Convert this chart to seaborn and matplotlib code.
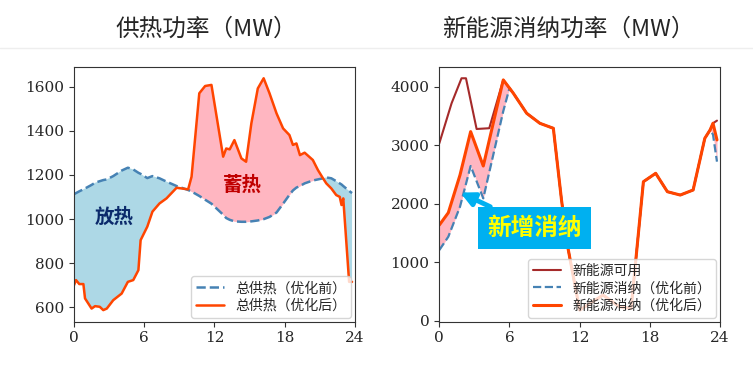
import numpy as np
import pandas as pd
import matplotlib
matplotlib.use('Agg')
import matplotlib.pyplot as plt
from matplotlib.lines import Line2D
import seaborn as sns

# ---- data: heat supply (MW) ----
t_heat = [0, 0.17, 0.45, 0.8, 0.94, 1.5, 1.8, 2.2, 2.5, 2.8, 3.35, 4.07, 4.6, 5.06,
          5.5, 5.69, 6.26, 6.7, 7.3, 7.9, 8.76, 9.75, 10.04, 10.7, 11.2, 11.74, 12.74,
          13.0, 13.3, 13.7, 14.3, 14.7, 15.15, 15.7, 16.2, 16.7, 17.3, 17.86, 18.4,
          18.7, 19.0, 19.3, 19.7, 20.4, 20.84, 21.27, 21.55, 21.98, 22.4, 22.7, 22.85,
          23.0, 23.5, 23.75]
heat_before = [1113, 1118, 1126, 1135, 1139, 1155, 1165, 1172, 1177, 1180, 1195, 1220,
               1233, 1225, 1210, 1205, 1186, 1195, 1185, 1170, 1150, 1132, 1125, 1105,
               1088, 1070, 1020, 1005, 997, 990, 988, 988, 990, 994, 1000, 1010, 1030,
               1070, 1110, 1130, 1143, 1150, 1162, 1175, 1180, 1185, 1189, 1185, 1172,
               1162, 1157, 1150, 1128, 1118]
heat_after = [701, 724, 706, 706, 641, 595, 606, 603, 588, 595, 633, 663, 716, 724,
              769, 905, 966, 1034, 1071, 1094, 1142, 1135, 1192, 1570, 1603, 1608, 1283,
              1320, 1316, 1358, 1275, 1260, 1434, 1592, 1638, 1570, 1479, 1411, 1381,
              1336, 1343, 1290, 1301, 1268, 1222, 1185, 1162, 1139, 1109, 1101, 1064,
              1094, 716, 716]

# ---- data: renewable power (MW) ----
t_avail = [0, 1.05, 1.9, 2.28, 3.19, 4.27, 5.47, 6.0, 6.33, 7.47, 8.6, 9.75, 10.45,
           11.0, 12.0, 14.0, 15.4, 16.4, 17.45, 18.5, 19.5, 20.6, 21.7, 22.7, 23.15,
           23.4, 23.74]
re_avail = [3031, 3715, 4142, 4142, 3276, 3289, 4114, 3974, 3886, 3544, 3373, 3288,
            2060, 1243, 183, 440, 240, 212, 2376, 2519, 2205, 2148, 2234, 3117, 3259,
            3374, 3419]
t_re = [0, 0.77, 1.77, 2.68, 3.76, 5.47, 6.0, 6.33, 7.47, 8.6, 9.75, 10.45, 11.0, 12.0,
        14.0, 15.4, 16.4, 17.45, 18.5, 19.5, 20.6, 21.7, 22.7, 23.15, 23.4, 23.74]
re_before = [1208, 1436, 1949, 2644, 2091, 3581, 3974, 3886, 3544, 3373, 3288, 2060,
             1243, 183, 440, 240, 212, 2376, 2519, 2205, 2148, 2234, 3117, 3259, 3180,
             2718]
re_after = [1635, 1846, 2490, 3231, 2644, 4114, 3974, 3886, 3544, 3373, 3288, 2060,
            1243, 183, 440, 240, 212, 2376, 2519, 2205, 2148, 2234, 3117, 3259, 3374,
            3089]

heat = pd.DataFrame({'t': t_heat, 'before': heat_before, 'after': heat_after})
re = pd.DataFrame({'t': t_re, 'before': re_before, 'after': re_after})
avail = pd.DataFrame({'t': t_avail, 'avail': re_avail})

sns.set_style('ticks')
plt.rcParams['font.family'] = ['DejaVu Serif', 'Noto Sans CJK SC']
plt.rcParams['axes.unicode_minus'] = False

cjk = 'Noto Sans CJK SC'
c_before = '#4682B4'
c_after = '#FF4500'
c_avail = '#A52A2A'

fig = plt.figure(figsize=(7.53, 3.68), dpi=100)
ax1 = fig.add_axes([0.0983, 0.1258, 0.3731, 0.693])
ax2 = fig.add_axes([0.5834, 0.1258, 0.3728, 0.693])

# left: heat supply
b = heat['before'].to_numpy()
a = heat['after'].to_numpy()
ax1.fill_between(heat['t'], b, a, where=b >= a, interpolate=True, color='#ADD8E6', lw=0)
ax1.fill_between(heat['t'], b, a, where=a >= b, interpolate=True, color='#FFB6C1', lw=0)
sns.lineplot(data=heat, x='t', y='before', ax=ax1, color=c_before, linestyle='--',
             lw=1.8, label='总供热（优化前）')
sns.lineplot(data=heat, x='t', y='after', ax=ax1, color=c_after, lw=1.8,
             label='总供热（优化后）')
ax1.text(3.4, 1010, '放热', ha='center', va='center', fontsize=14, fontweight='bold',
         color='#0B2A6B', family=cjk)
ax1.text(14.4, 1154, '蓄热', ha='center', va='center', fontsize=14, fontweight='bold',
         color='#C00000', family=cjk)
ax1.set_yticks([600, 800, 1000, 1200, 1400, 1600])
ax1.legend(loc='lower right', prop={'family': cjk, 'size': 10}, labelspacing=0.25,
           borderpad=0.35, borderaxespad=0.3)

# right: renewable accommodation
b = re['before'].to_numpy()
a = re['after'].to_numpy()
ax2.fill_between(re['t'], b, a, where=a >= b, interpolate=True, color='#FFB6C1', lw=0)
sns.lineplot(data=avail, x='t', y='avail', ax=ax2, color=c_avail, lw=1.5,
             label='新能源可用')
sns.lineplot(data=re, x='t', y='before', ax=ax2, color=c_before, linestyle='--',
             lw=1.6, label='新能源消纳（优化前）')
sns.lineplot(data=re, x='t', y='after', ax=ax2, color=c_after, lw=2.2,
             label='新能源消纳（优化后）')
ax2.set_yticks([0, 1000, 2000, 3000, 4000])
ax2.annotate('新增消纳', xy=(1.8, 2190), xytext=(8.15, 1590), ha='center', va='center',
             fontsize=17, fontweight='bold', color='#FFFF00', family=cjk,
             bbox=dict(boxstyle='square,pad=0.38', fc='#00B0F0', ec='none'),
             arrowprops=dict(arrowstyle='-|>', color='#00B0F0', lw=3.5,
                             mutation_scale=20, shrinkA=0, shrinkB=0))
ax2.legend(loc='lower right', prop={'family': cjk, 'size': 10}, labelspacing=0.25,
           borderpad=0.35, borderaxespad=0.3)

for ax in (ax1, ax2):
    ax.set_xlim(0, 24)
    ax.set_xticks([0, 6, 12, 18, 24])
    ax.set_xlabel('')
    ax.set_ylabel('')
    ax.tick_params(labelsize=11, color='#333333')
    for s in ax.spines.values():
        s.set_color('#333333')

fig.text(0.2742, 0.921, '供热功率（MW）', ha='center', va='center', fontsize=17,
         family=cjk)
fig.text(0.755, 0.921, '新能源消纳功率（MW）', ha='center', va='center', fontsize=17,
         family=cjk)
fig.add_artist(Line2D([0, 1], [0.870, 0.870], transform=fig.transFigure,
                      color='#eeeeee', lw=1))

fig.savefig('out.png', dpi=100)
